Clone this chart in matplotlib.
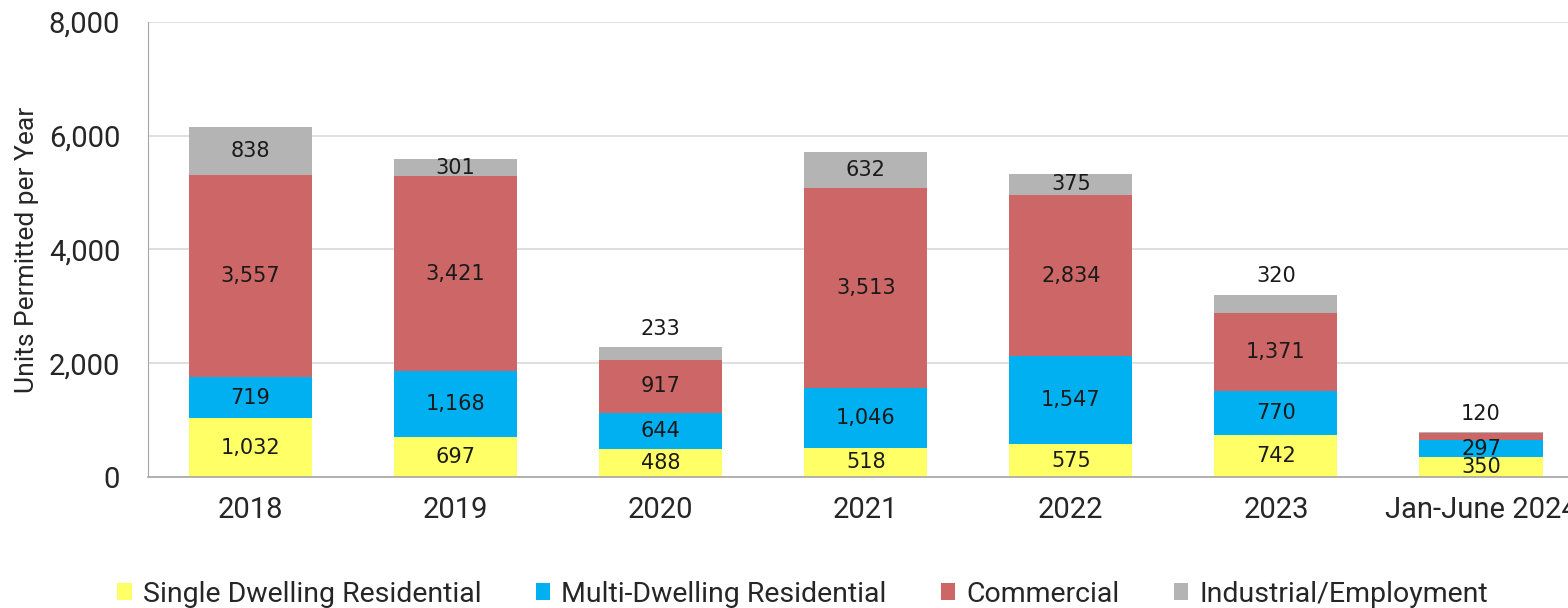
import numpy as np
import matplotlib.pyplot as plt

# Dados
anos = ['2018', '2019', '2020', '2021', '2022', '2023', 'Jan-June 2024']
single = [1032, 697, 488, 518, 575, 742, 350]
multi = [719, 1168, 644, 1046, 1547, 770, 297]
commercial = [3557, 3421, 917, 3513, 2834, 1371, 120]
industrial = [838, 301, 233, 632, 375, 320, 25]

# rotulos do topo (acima da barra quando o segmento e pequeno)
rotulo_topo = ['', '', '233', '', '', '320', '120']

series = [single, multi, commercial, industrial]
nomes = ['Single Dwelling Residential', 'Multi-Dwelling Residential',
         'Commercial', 'Industrial/Employment']
cores = ['#FFFF66', '#00B0F0', '#CD6666', '#B4B4B4']

fig = plt.figure(figsize=(15.68, 6.08), dpi=100)
ax = fig.add_axes([0.0944, 0.2155, 0.9155, 0.7485])

x = np.arange(len(anos))
base = np.zeros(len(anos))
for vals, nome, cor in zip(series, nomes, cores):
    vals = np.array(vals, dtype=float)
    ax.bar(x, vals, 0.6, bottom=base, color=cor, label=nome, zorder=2)
    for i, v in enumerate(vals):
        if rotulo_topo[i] and (cor == '#B4B4B4' or (i == 6 and cor == '#CD6666')):
            continue
        ax.text(x[i], base[i] + v / 2, f'{int(v):,}', ha='center', va='center',
                fontsize=15, family='DejaVu Sans', color='#1a1a1a', zorder=3)
    base += vals

# rotulos acima das barras
for i, t in enumerate(rotulo_topo):
    if t:
        ax.annotate(t, (x[i], base[i]), xytext=(0, 6), textcoords='offset points',
                    ha='center', va='bottom', fontsize=15, family='DejaVu Sans',
                    color='#1a1a1a')

ax.set_xlim(-0.5, len(anos) - 0.5)
ax.set_ylim(0, 8000)
ax.set_yticks(range(0, 8001, 2000))
ax.set_yticklabels([f'{v:,}' for v in range(0, 8001, 2000)],
                   fontsize=21, family='Roboto', color='#262626')
ax.set_xticks(x)
ax.set_xticklabels(anos, fontsize=21, family='Roboto', color='#262626')
ax.tick_params(axis='y', length=0, pad=20)
ax.tick_params(axis='x', length=0, pad=14)
ax.set_ylabel('Units Permitted per Year', fontsize=19, family='Roboto',
              color='#262626', labelpad=7)

ax.grid(axis='y', color='#D9D9D9', linewidth=1.2, zorder=0)
ax.set_axisbelow(True)
for s in ['top', 'right']:
    ax.spines[s].set_visible(False)
ax.spines['left'].set_color('#A6A6A6')
ax.spines['bottom'].set_color('#A6A6A6')
ax.spines['bottom'].set_linewidth(1.2)

fig.legend(loc='center', bbox_to_anchor=(0.512, 0.023), ncol=4,
           frameon=False, prop={'family': 'Roboto', 'size': 20.5},
           handlelength=0.5, handleheight=0.5, handletextpad=0.4,
           columnspacing=1.9, labelcolor='#262626')

plt.savefig('out.png', dpi=100)
